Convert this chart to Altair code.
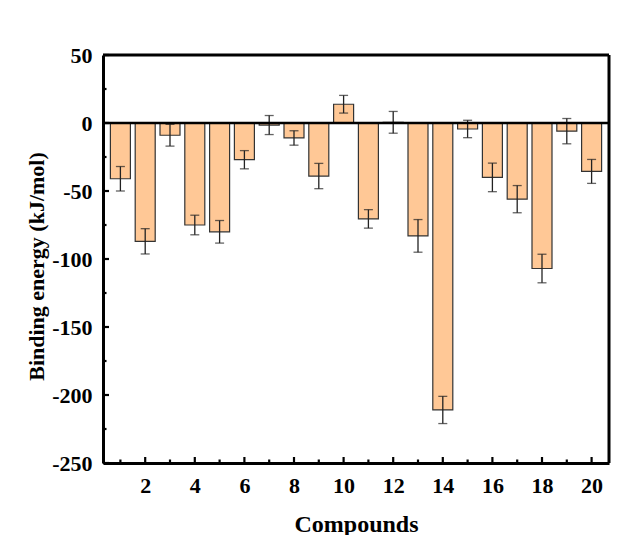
import altair as alt
import pandas as pd

compounds = list(range(1, 21))
energy = [-41, -87, -9, -75, -80, -27, -1.5, -11, -39, 13.8,
          -70.5, 0.5, -83, -211, -4.4, -40, -56, -107, -6, -35.6]
error = [9, 9.3, 8, 7.2, 8.3, 6.7, 7, 5.3, 9.3, 6.5,
         6.8, 8, 12, 10, 6.4, 10.5, 10, 10.5, 9.3, 8.8]

y_major = [-250, -200, -150, -100, -50, 0, 50]
y_minor = [-225, -175, -125, -75, -25, 25]
x_major = [2, 4, 6, 8, 10, 12, 14, 16, 18, 20]
x_minor = [1, 3, 5, 7, 9, 11, 13, 15, 17, 19]

df = pd.DataFrame({"c": compounds, "e": energy, "err": error})
df["lo"] = df["e"] - df["err"]
df["hi"] = df["e"] + df["err"]

W, H = 506, 408
FONT = "Liberation Serif"
LW = 3

xscale = alt.Scale(domain=[0.5, 20.5], nice=False, zero=False)
yscale = alt.Scale(domain=[-250, 50], nice=False)

xaxis = alt.Axis(values=x_major, ticks=False, grid=False, domainColor="black",
                 domainWidth=LW, labelFont=FONT, labelFontWeight="bold",
                 labelFontSize=22, labelColor="black", labelBaseline="alphabetic",
                 labelPadding=29, title="Compounds", titleFont=FONT,
                 titleFontWeight="bold", titleFontSize=24, titleColor="black",
                 titleBaseline="alphabetic", titleY=68, labelFlush=False,
                 labelExpr="'' + datum.value")
yaxis = alt.Axis(values=y_major, ticks=False, grid=False, domainColor="black",
                 domainWidth=LW, labelFont=FONT, labelFontWeight="bold",
                 labelFontSize=22, labelColor="black", labelPadding=11,
                 title="Binding energy (kJ/mol)", titleFont=FONT,
                 titleFontWeight="bold", titleFontSize=22, titleColor="black",
                 titleBaseline="alphabetic", titleAngle=-90, titleX=-60,
                 titleY=211, labelFlush=False,
                 labelExpr="'' + datum.value")

base = alt.Chart(df)

bars = base.mark_bar(size=20, color="#FFC896", stroke="#333333",
                     strokeWidth=1.2).encode(
    x=alt.X("c:Q", scale=xscale, axis=xaxis),
    y=alt.Y("e:Q", scale=yscale, axis=yaxis),
)

err_line = base.mark_rule(color="#222", strokeWidth=1.3).encode(
    x=alt.X("c:Q", scale=xscale), y=alt.Y("lo:Q", scale=yscale), y2="hi:Q")
cap_lo = base.mark_tick(orient="horizontal", size=9, thickness=1.3,
                        color="#222").encode(
    x=alt.X("c:Q", scale=xscale), y=alt.Y("lo:Q", scale=yscale))
cap_hi = base.mark_tick(orient="horizontal", size=9, thickness=1.3,
                        color="#222").encode(
    x=alt.X("c:Q", scale=xscale), y=alt.Y("hi:Q", scale=yscale))

zero = alt.Chart(pd.DataFrame({"z": [0]})).mark_rule(
    color="black", strokeWidth=2.5).encode(y=alt.Y("z:Q", scale=yscale))

ymaj = alt.Chart(pd.DataFrame({"v": y_major})).mark_rule(
    color="black", strokeWidth=2.2).encode(
    y=alt.Y("v:Q", scale=yscale), x=alt.value(0), x2=alt.value(6))
ymin = alt.Chart(pd.DataFrame({"v": y_minor})).mark_rule(
    color="black", strokeWidth=2.2).encode(
    y=alt.Y("v:Q", scale=yscale), x=alt.value(0), x2=alt.value(3.5))
xmaj = alt.Chart(pd.DataFrame({"v": x_major})).mark_rule(
    color="black", strokeWidth=2.2).encode(
    x=alt.X("v:Q", scale=xscale), y=alt.value(H), y2=alt.value(H - 6))
xmin = alt.Chart(pd.DataFrame({"v": x_minor})).mark_rule(
    color="black", strokeWidth=2.2).encode(
    x=alt.X("v:Q", scale=xscale), y=alt.value(H), y2=alt.value(H - 3.5))

frame_top = alt.Chart(pd.DataFrame({"z": [0]})).mark_rule(
    color="black", strokeWidth=LW).encode(
    x=alt.value(0), x2=alt.value(W), y=alt.value(0))
frame_right = alt.Chart(pd.DataFrame({"z": [0]})).mark_rule(
    color="black", strokeWidth=LW).encode(
    x=alt.value(W), y=alt.value(0), y2=alt.value(H))

chart = alt.layer(bars, err_line, cap_lo, cap_hi, zero,
                  ymaj, ymin, xmaj, xmin, frame_top, frame_right).properties(
    width=W, height=H,
    autosize=alt.AutoSizeParams(type="none"),
    padding={"left": 103, "top": 55, "right": 8, "bottom": 72},
).configure_view(stroke="black", strokeWidth=LW).configure(background="white")

chart.save("out.html", embed_options={"renderer": "svg", "actions": False})
